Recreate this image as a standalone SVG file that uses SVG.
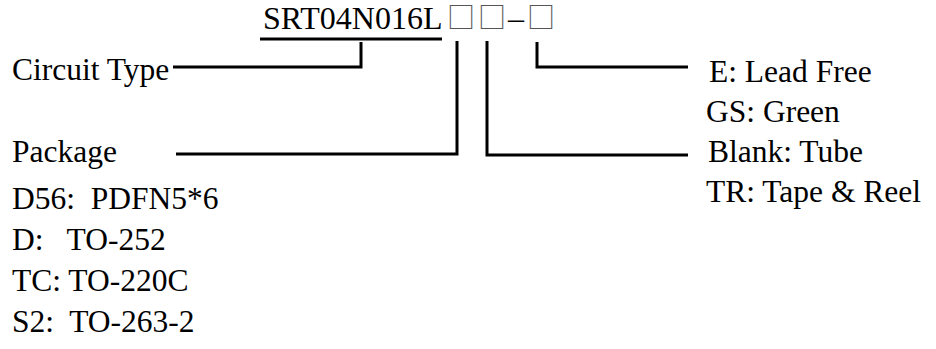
<svg xmlns="http://www.w3.org/2000/svg" width="936" height="349" viewBox="0 0 936 349">
<style>
.t{font-family:"Liberation Serif","Times New Roman",serif;font-size:31.5px;fill:#000;white-space:pre}
.title{font-family:"Liberation Serif","Times New Roman",serif;font-size:32px;fill:#000}
.box{font-family:"Noto Sans CJK SC",sans-serif;font-size:28px;fill:#555}
.c{fill:none;stroke:#000;stroke-width:3}
</style>
<rect width="936" height="349" fill="#fff"/>
<g id="title">
<text class="title" x="263" y="29">SRT04N016L<tspan class="box" x="447" y="28">□</tspan><tspan class="box" x="478" y="28">□</tspan><tspan x="508" y="29">–</tspan><tspan class="box" x="527" y="28">□</tspan></text>
<line class="c" x1="260" y1="39" x2="442" y2="39"/>
</g>
<g id="circuit-type"><text class="t" x="12" y="80">Circuit Type</text></g>
<g id="package">
<text class="t" x="12" y="162">Package</text>
<text class="t" x="12" y="209">D56:  PDFN5*6</text>
<text class="t" x="12" y="250">D:   TO-252</text>
<text class="t" x="12" y="291">TC: TO-220C</text>
<text class="t" x="12" y="332">S2:  TO-263-2</text>
</g>
<g id="lead">
<text class="t" x="709" y="82">E: Lead Free</text>
<text class="t" x="706" y="122">GS: Green</text>
</g>
<g id="packing">
<text class="t" x="708" y="162">Blank: Tube</text>
<text class="t" x="706" y="202">TR: Tape &amp; Reel</text>
</g>
<g id="connectors">
<path class="c" d="M173,67 H361 V42"/>
<path class="c" d="M176,154 H457 V41"/>
<path class="c" d="M688,155 H487 V41"/>
<path class="c" d="M688,67 H537 V42"/>
</g>
</svg>
